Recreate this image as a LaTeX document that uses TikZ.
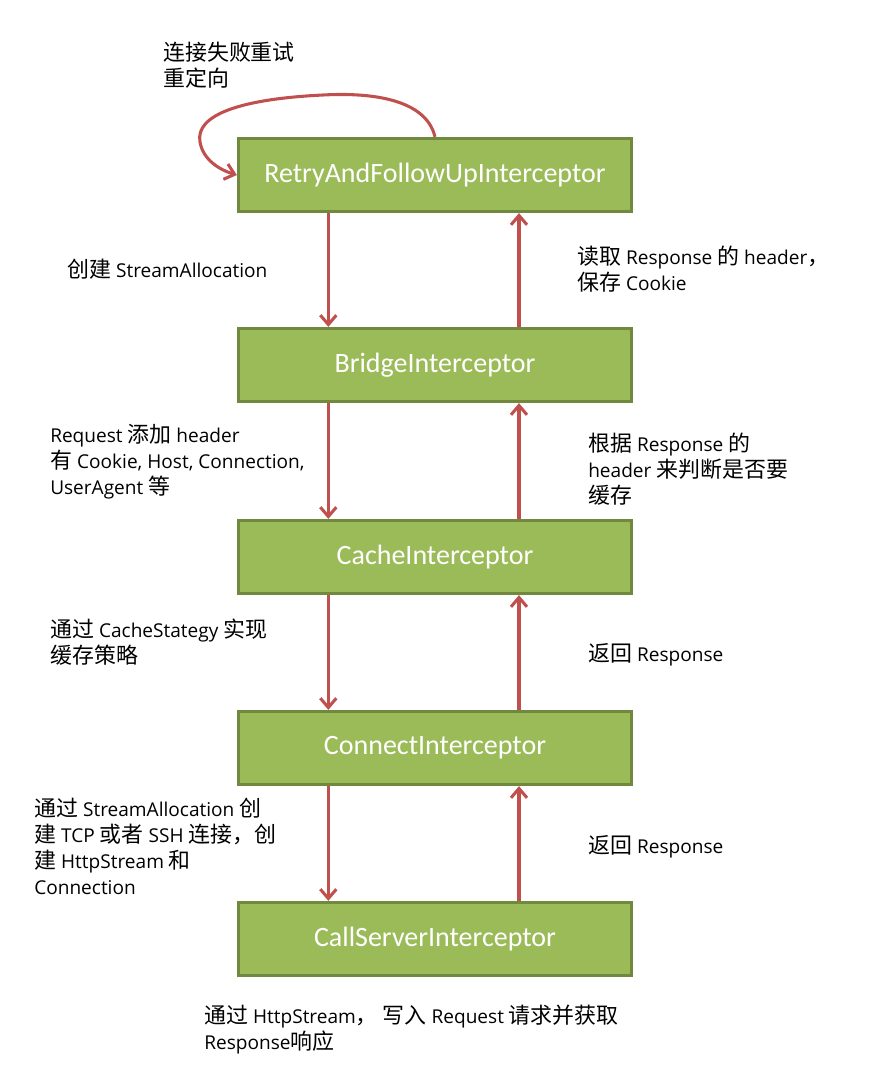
\documentclass[tikz,border=0pt]{standalone}
\usepackage{fontspec}
\setmainfont{Open Sans}
\newfontfamily\boxfont{Carlito}
\newfontfamily\zhfont[Scale=1.15]{Noto Sans CJK SC}
\newcommand{\zh}[1]{{\zhfont #1}}
\usetikzlibrary{arrows.meta}

\definecolor{boxgreen}{HTML}{9BBB59}
\definecolor{boxedge}{HTML}{71893F}
\definecolor{arrowred}{HTML}{C0504D}

\begin{document}
\begin{tikzpicture}[x=0.75pt,y=-0.75pt,
  stage/.style={draw=boxedge, line width=2.2pt, fill=boxgreen, minimum width=295pt,
    minimum height=55pt, inner sep=0pt, text=white, font=\boxfont\fontsize{21}{25}\selectfont},
  flow/.style={draw=arrowred, line width=2.3pt, -{Straight Barb[length=7pt,width=12pt]}},
  note/.style={anchor=west, align=left, inner sep=0pt, font=\fontsize{14.3}{19.5}\selectfont}]
\useasboundingbox (0,0) rectangle (870,1077);

% ---- the interceptor chain
\node[stage] (retry) at (435,175) {RetryAndFollowUpInterceptor};
\node[stage] (bridge) at (435,365) {BridgeInterceptor};
\node[stage] (cache) at (435,557) {CacheInterceptor};
\node[stage] (connect) at (435,748) {ConnectInterceptor};
\node[stage] (callserver) at (435,939) {CallServerInterceptor};

% ---- request goes down (left), response comes up (right)
\draw[flow] ([xshift=-80pt]retry.south) -- ([xshift=-80pt]bridge.north);
\draw[flow] ([xshift=-80pt]bridge.south) -- ([xshift=-80pt]cache.north);
\draw[flow] ([xshift=-80pt]cache.south) -- ([xshift=-80pt]connect.north);
\draw[flow] ([xshift=-80pt]connect.south) -- ([xshift=-80pt]callserver.north);
\draw[flow] ([xshift=63pt]bridge.north) -- ([xshift=63pt]retry.south);
\draw[flow] ([xshift=63pt]cache.north) -- ([xshift=63pt]bridge.south);
\draw[flow] ([xshift=63pt]connect.north) -- ([xshift=63pt]cache.south);
\draw[flow] ([xshift=63pt]callserver.north) -- ([xshift=63pt]connect.south);

% ---- retry loop
\draw[flow] (retry.north) .. controls (425,95) and (360,93) .. (323,95)
  .. controls (240,99) and (195,115) .. (200,142)
  .. controls (203,160) and (220,170) .. (retry.west);

% ---- notes
\node[note] (looptext) at (163,65) {\zh{连接失败重试}\\\zh{重定向}};
\node[note] (n1) at (67,269) {\zh{创建} StreamAllocation};
\node[note] (r1) at (577,269) {\zh{读取} Response \zh{的} header\zh{，}\\\zh{保存} Cookie};
\node[note] (n2) at (50,462) {Request \zh{添加} header\\\zh{有} Cookie, Host, Connection,\\UserAgent \zh{等}};
\node[note] (r2) at (588,469) {\zh{根据} Response \zh{的}\\header \zh{来判断是否要}\\\zh{缓存}};
\node[note] (n3) at (50,642) {\zh{通过} CacheStategy \zh{实现}\\\zh{缓存策略}};
\node[note] (r3) at (588,655) {\zh{返回} Response};
\node[note] (n4) at (34,846) {\zh{通过} StreamAllocation \zh{创}\\\zh{建} TCP \zh{或者} SSH \zh{连接，创}\\\zh{建} HttpStream \zh{和}\\Connection};
\node[note] (r4) at (588,847) {\zh{返回} Response};
\node[note] (n5) at (204,1030) {\zh{通过} HttpStream\zh{，} \zh{写入} Request \zh{请求并获取}\\Response\zh{响应}};

\end{tikzpicture}
\end{document}
